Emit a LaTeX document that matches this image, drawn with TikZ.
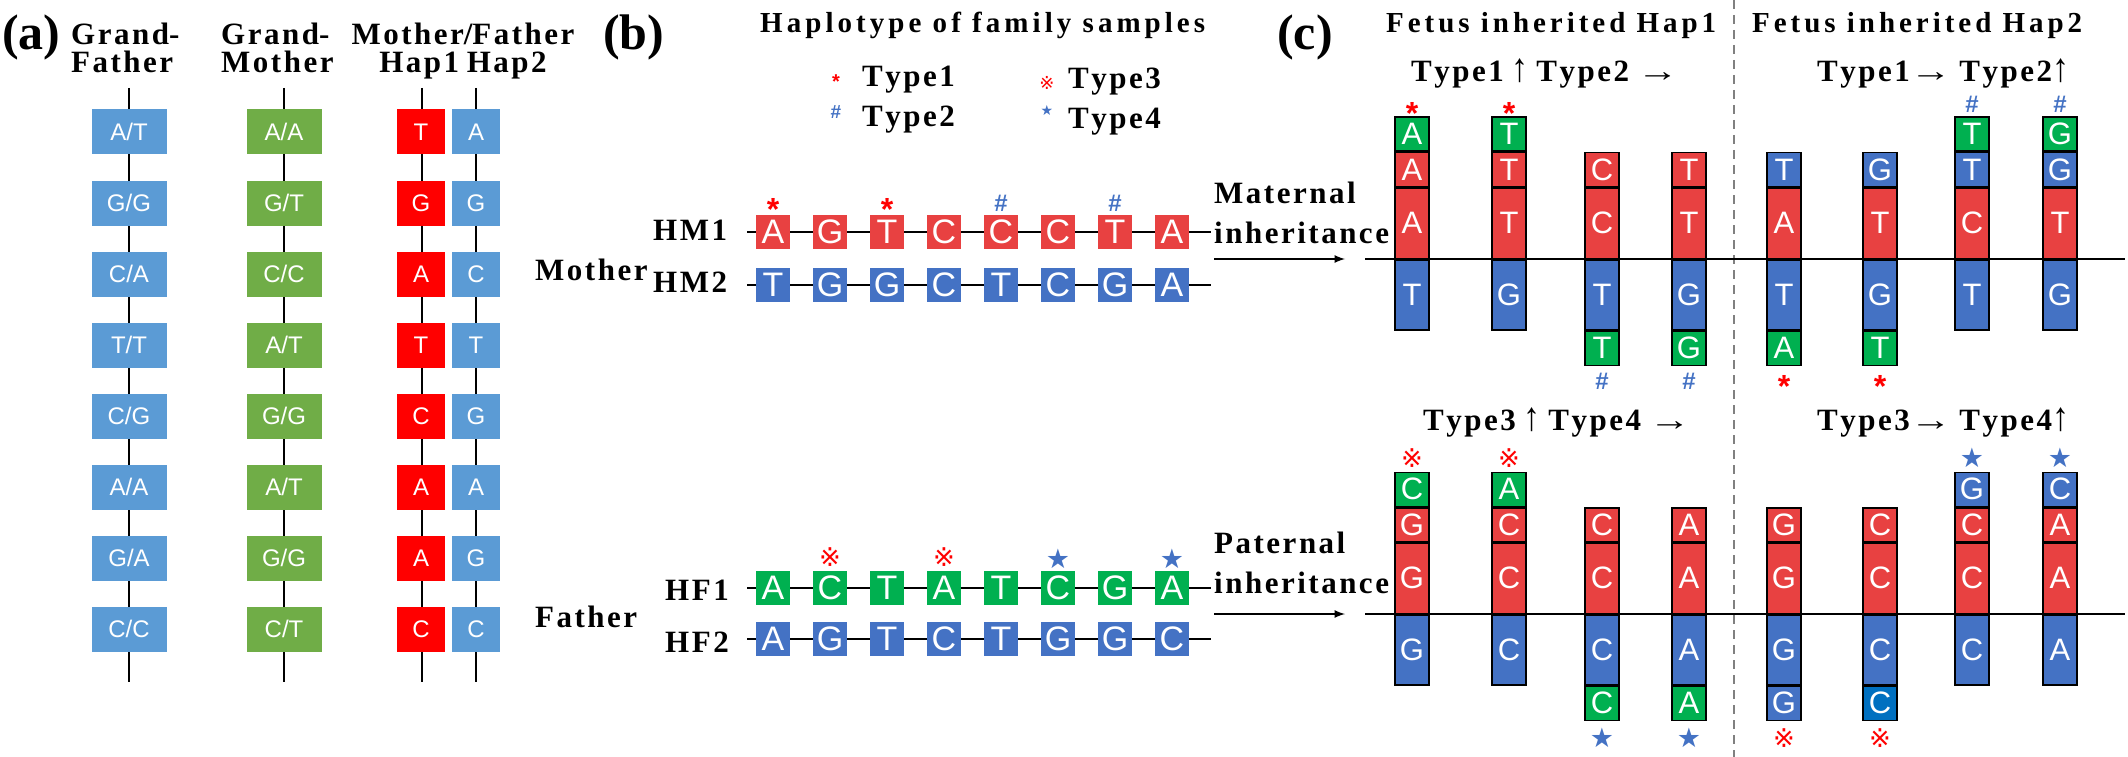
\documentclass[tikz,border=0pt]{standalone}
\usepackage{fontspec}
\usepackage{amsmath}
\usepackage{graphicx}
\usepackage{tikz}
\usetikzlibrary{arrows,positioning}
\newfontfamily\hdfont{Liberation Serif}
\newfontfamily\panelfont{Liberation Serif}
\newfontfamily\basefont{Liberation Sans}
\newfontfamily\symfont{DejaVu Sans}
% letter spacing of the bold headings: a kern between two letters or digits
\newdimen\lsamt
\count255=`A \loop \XeTeXcharclass\count255=21 \ifnum\count255<`Z \advance\count255 by 1 \repeat
\count255=`a \loop \XeTeXcharclass\count255=21 \ifnum\count255<`z \advance\count255 by 1 \repeat
\count255=`0 \loop \XeTeXcharclass\count255=21 \ifnum\count255<`9 \advance\count255 by 1 \repeat
\XeTeXinterchartoks 21 21 = {\kern\lsamt}
% titles: letters spread over a given width
\makeatletter
\def\spreadword#1{\spread@#1\relax}
\def\spread@#1{\ifx\relax#1\else#1\hfil\expandafter\spread@\fi}
\makeatother
\newcommand{\spreadline}[2]{\hbox to #1{#2\unskip}}
\definecolor{gfblue}{HTML}{5B9BD5}
\definecolor{gmgreen}{HTML}{70AD47}
\definecolor{hapred}{HTML}{FF0000}
\definecolor{segred}{HTML}{E84141}
\definecolor{segblue}{HTML}{4472C4}
\definecolor{segblue2}{HTML}{0070C0}
\definecolor{seggreen}{HTML}{00B050}
\definecolor{markred}{HTML}{FF0000}
\definecolor{markblue}{HTML}{4472C4}
\newcommand{\upar}{{\panelfont\mdseries\scalebox{1.1}[1.3]{↑}}}
\newcommand{\rtar}{{\panelfont\mdseries\scalebox{1.35}[1]{→}}}
\newcommand{\astbig}{\raisebox{-13pt}[10pt][0pt]{*}}
\newcommand{\astsmall}{\raisebox{-8.2pt}[6.2pt][0pt]{*}}
\tikzset{
  lbl_panel/.style = {inner sep=0pt, font=\panelfont\bfseries\fontsize{50}{50}\selectfont},% (a) (b) (c)
  hd/.style = {inner sep=0pt, font={\hdfont\bfseries\fontsize{31}{28}\selectfont
    \lsamt=2.5pt\XeTeXinterchartokenstate=1}},% headings, row names
  hd_two/.style = {hd, align=left, font={\hdfont\bfseries\fontsize{31}{40}\selectfont
    \lsamt=2.5pt\XeTeXinterchartokenstate=1}},% two line labels at the arrows
  ttl/.style = {inner sep=0pt, font=\hdfont\bfseries\fontsize{29}{29}\selectfont},% panel titles
  box_base/.style = {inner sep=0pt, text=white},
  geno/.style = {box_base, minimum width=75pt, minimum height=45pt,
    font=\basefont\fontsize{24}{24}\selectfont},% genotype of grand parents
  hap/.style = {geno, minimum width=48pt},% one allele of a parent haplotype
  seq/.style = {box_base, minimum width=34pt, minimum height=34pt,
    font=\basefont\fontsize{34}{34}\selectfont},% allele on HM / HF rows
  seg_big/.style = {box_base, draw=black, line width=1.5pt, minimum width=34pt,
    minimum height=70pt, font=\basefont\fontsize{31}{31}\selectfont},% fetus allele, long
  seg_sm/.style = {seg_big, minimum height=34pt},% fetus allele, short
  stem/.style = {line width=2pt},
  base_ln/.style = {line width=2.5pt},
  inh_arrow/.style = {line width=2.5pt, -latex},
  divider/.style = {line width=2pt, gray, dash pattern=on 9pt off 6pt},
  mk_ast/.style = {inner sep=0pt, text=markred,
    font=\basefont\bfseries\fontsize{32}{32}\selectfont},% type1
  mk_hash/.style = {inner sep=0pt, text=markblue,
    font=\basefont\bfseries\fontsize{24}{24}\selectfont},% type2
  mk_ref/.style = {inner sep=0pt, text=markred,
    font=\symfont\fontsize{26}{26}\selectfont},% type3
  mk_star/.style = {inner sep=0pt, text=markblue,
    font=\symfont\fontsize{27}{27}\selectfont},% type4
  lg_ast/.style = {mk_ast, font=\basefont\bfseries\fontsize{20}{20}\selectfont},
  lg_hash/.style = {mk_hash, font=\basefont\bfseries\fontsize{19}{19}\selectfont},
  lg_ref/.style = {mk_ref, font=\symfont\fontsize{18}{18}\selectfont},
  lg_star/.style = {mk_star, font=\symfont\fontsize{14}{14}\selectfont}
}
\begin{document}
\begin{tikzpicture}[x=1pt, y=-1pt]
  \useasboundingbox (0,0) rectangle (2128,757);

  % (a) grand parents and parent haplotypes
  \node[lbl_panel, anchor=base west] (pa) at (2,50) {(a)};
  \node[hd, align=left, anchor=north west] (hgf) at (71,23) {Grand-\\Father};
  \node[hd, align=left, anchor=north west] (hgm) at (221,23) {Grand-\\Mother};
  \node[hd, align=center, anchor=north] (hmf) at (463,23) {Mother/Father\\Hap1 Hap2};
  \foreach \x/\n in {129/gf, 284/gm, 422/ha, 476/hb}{
    \coordinate (\n top) at (\x,88);
    \coordinate (\n bot) at (\x,682);
    \draw[stem] (\n top) -- (\n bot);
  }
  \foreach \fa/\fb/\ma/\mb/\ha/\hb [count=\k] in {A/T/A/A/T/A, G/G/G/T/G/G,
      C/A/C/C/A/C, T/T/A/T/T/T, C/G/G/G/C/G, A/A/A/T/A/A, G/A/G/G/A/G, C/C/C/T/C/C}{
    \node[geno, fill=gfblue] (gf\k) at (129,{132+71*(\k-1)}) {\fa/\fb};
    \node[geno, fill=gmgreen] (gm\k) at (284,{132+71*(\k-1)}) {\ma/\mb};
    \node[hap, fill=hapred] (ha\k) at (421,{132+71*(\k-1)}) {\ha};
    \node[hap, fill=gfblue] (hb\k) at (476,{132+71*(\k-1)}) {\hb};
  }

  % (b) haplotypes of the family
  \node[lbl_panel, anchor=base west] (pb) at (603,50) {(b)};
  \node[ttl, anchor=base west] (htitle) at (760,33) {\spreadline{445pt}{\spreadword{Haplotype}\
    \spreadword{of}\ \spreadword{family}\ \spreadword{samples}}};
  \node[lg_ast] (lg1) at (836,77) {\astsmall};
  \node[lg_hash] (lg2) at (836,112) {\#};
  \node[lg_ref] (lg3) at (1047,83) {※};
  \node[lg_star] (lg4) at (1047,110) {★};
  \node[hd, anchor=base west] (ty1) at (862,87) {Type1};
  \node[hd, anchor=base west] (ty2) at (862,127) {Type2};
  \node[hd, anchor=base west] (ty3) at (1068,89) {Type3};
  \node[hd, anchor=base west] (ty4) at (1068,129) {Type4};

  \foreach \n/\y in {hm1/232, hm2/285, hf1/588, hf2/639}{
    \coordinate (\n s) at (747,\y);
    \coordinate (\n e) at (1211,\y);
    \draw[stem] (\n s) -- (\n e);
  }
  \foreach \l [count=\k] in {A,G,T,C,C,C,T,A}
    \node[seq, fill=segred] (hm1-\k) at ({773+57*(\k-1)},232) {\l};
  \foreach \l [count=\k] in {T,G,G,C,T,C,G,A}
    \node[seq, fill=segblue] (hm2-\k) at ({773+57*(\k-1)},285) {\l};
  \foreach \l [count=\k] in {A,C,T,A,T,C,G,A}
    \node[seq, fill=seggreen] (hf1-\k) at ({773+57*(\k-1)},588) {\l};
  \foreach \l [count=\k] in {A,G,T,C,T,G,G,C}
    \node[seq, fill=segblue] (hf2-\k) at ({773+57*(\k-1)},639) {\l};
  \foreach \k in {1,3} \node[mk_ast, above=7pt of hm1-\k] {\astbig};
  \foreach \k in {5,7} \node[mk_hash, above=3pt of hm1-\k] {\#};
  \foreach \k in {2,4} \node[mk_ref, above=4pt of hf1-\k] {※};
  \foreach \k in {6,8} \node[mk_star, above=2pt of hf1-\k] {★};

  \node[hd, anchor=base west] (lhm1) at (653,240) {HM1};
  \node[hd, anchor=base west] (lhm2) at (653,292) {HM2};
  \node[hd, anchor=base west] (lmo) at (535,280) {Mother};
  \node[hd, anchor=base west] (lhf1) at (665,600) {HF1};
  \node[hd, anchor=base west] (lhf2) at (665,652) {HF2};
  \node[hd, anchor=base west] (lfa) at (535,627) {Father};

  % inheritance arrows
  \node[hd_two, anchor=north west] (lmat) at (1214,182) {Maternal\\inheritance};
  \node[hd_two, anchor=north west] (lpat) at (1214,532) {Paternal\\inheritance};
  \coordinate (amats) at (1214,259);
  \coordinate (amate) at (1345,259);
  \coordinate (apats) at (1214,614);
  \coordinate (apate) at (1345,614);
  \draw[inh_arrow] (amats) -- (amate);
  \draw[inh_arrow] (apats) -- (apate);

  % (c) fetus alleles
  \node[lbl_panel, anchor=base west] (pc) at (1277,50) {(c)};
  \node[ttl, anchor=base west] (fh1) at (1386,33) {\spreadline{330pt}{\spreadword{Fetus}\
    \spreadword{inherited}\ \spreadword{Hap1}}};
  \node[ttl, anchor=base west] (fh2) at (1752,33) {\spreadline{330pt}{\spreadword{Fetus}\
    \spreadword{inherited}\ \spreadword{Hap2}}};
  \node[hd, anchor=base west] (tm1) at (1411,82) {Type1 \upar{} Type2 \rtar};
  \node[hd, anchor=base west] (tm2) at (1817,82) {Type1\rtar{} Type2\upar};
  \node[hd, anchor=base west] (tp1) at (1423,430) {Type3 \upar{} Type4 \rtar};
  \node[hd, anchor=base west] (tp2) at (1817,430) {Type3\rtar{} Type4\upar};
  \coordinate (dtop) at (1734,0);
  \coordinate (dbot) at (1734,757);
  \draw[divider] (dtop) -- (dbot);
  \coordinate (mbs) at (1365,259);
  \coordinate (mbe) at (2125,259);
  \coordinate (pbs) at (1365,614);
  \coordinate (pbe) at (2125,614);
  \draw[base_ln] (mbs) -- (mbe);
  \draw[base_ln] (pbs) -- (pbe);

  % maternal side
  \foreach \i/\x/\ua/\ub/\uc/\da in {1/1412/A/A/segred/T, 2/1509/T/T/segred/G,
      3/1602/C/C/segred/T, 4/1689/T/T/segred/G, 5/1784/A/T/segblue/T,
      6/1880/T/G/segblue/G, 7/1972/C/T/segblue/T, 8/2060/T/G/segblue/G}{
    \node[seg_big, fill=segred, anchor=south] (mu\i) at (\x,259) {\ua};
    \node[seg_sm, fill=\uc, above=0pt of mu\i] (mv\i) {\ub};
    \node[seg_big, fill=segblue, anchor=north] (md\i) at (\x,259) {\da};
  }
  \foreach \i/\l in {1/A, 2/T, 7/T, 8/G}
    \node[seg_sm, fill=seggreen, above=0pt of mv\i] (mw\i) {\l};
  \foreach \i/\l in {3/T, 4/G, 5/A, 6/T}
    \node[seg_sm, fill=seggreen, below=0pt of md\i] (me\i) {\l};
  \foreach \i in {1,2} \node[mk_ast, above=5pt of mw\i] {\astbig};
  \foreach \i in {7,8} \node[mk_hash, above=4pt of mw\i] {\#};
  \foreach \i in {3,4} \node[mk_hash, below=7pt of me\i] {\#};
  \foreach \i in {5,6} \node[mk_ast, below=8pt of me\i] {\astbig};

  % paternal side
  \foreach \i/\x/\l in {1/1412/G, 2/1509/C, 3/1602/C, 4/1689/A,
      5/1784/G, 6/1880/C, 7/1972/C, 8/2060/A}{
    \node[seg_big, fill=segred, anchor=south] (pu\i) at (\x,614) {\l};
    \node[seg_sm, fill=segred, above=0pt of pu\i] (pv\i) {\l};
    \node[seg_big, fill=segblue, anchor=north] (pd\i) at (\x,614) {\l};
  }
  \foreach \i/\l/\c in {1/C/seggreen, 2/A/seggreen, 7/G/segblue, 8/C/segblue}
    \node[seg_sm, fill=\c, above=0pt of pv\i] (pw\i) {\l};
  \foreach \i/\l/\c in {3/C/seggreen, 4/A/seggreen, 5/G/segblue, 6/C/segblue2}
    \node[seg_sm, fill=\c, below=0pt of pd\i] (pe\i) {\l};
  \foreach \i in {1,2} \node[mk_ref, above=4pt of pw\i] {※};
  \foreach \i in {7,8} \node[mk_star, above=4pt of pw\i] {★};
  \foreach \i in {3,4} \node[mk_star, below=7pt of pe\i] {★};
  \foreach \i in {5,6} \node[mk_ref, below=7pt of pe\i] {※};
\end{tikzpicture}
\end{document}
